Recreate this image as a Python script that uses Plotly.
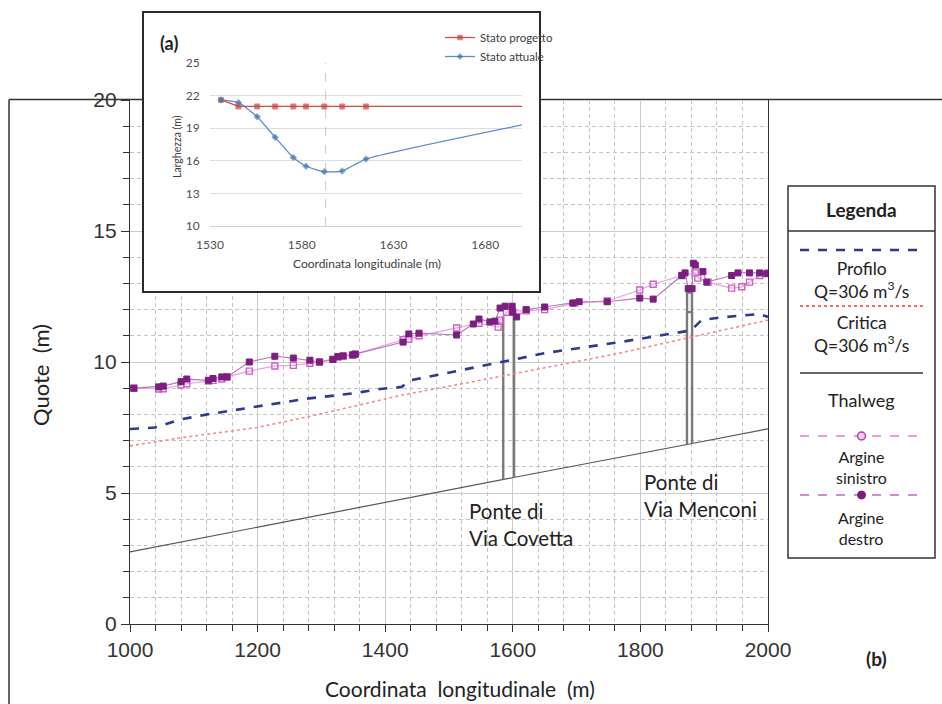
import numpy as np
import plotly.graph_objects as go

W, H = 942, 704
def fx(p):
    return p / W
def fy(p):
    return 1 - p / H

# ---------------- main chart data (b) ----------------
thalweg_x = [1000, 1423, 1603, 1877, 2000]
thalweg_y = [2.75, 4.76, 5.60, 6.87, 7.45]

profilo_x = [1000, 1039, 1078, 1121, 1199, 1277, 1349, 1392, 1426, 1439, 1497, 1585,
             1653, 1768, 1873, 1881, 1896, 1925, 1987, 2000]
profilo_y = [7.44, 7.50, 7.80, 8.00, 8.30, 8.60, 8.80, 8.97, 9.05, 9.30, 9.58, 10.00,
             10.35, 10.76, 11.18, 11.25, 11.60, 11.70, 11.83, 11.72]

critica_x = [1000, 1078, 1199, 1277, 1349, 1423, 1585, 1768, 1880, 2000]
critica_y = [6.80, 7.10, 7.50, 7.90, 8.30, 8.72, 9.47, 10.34, 10.95, 11.60]

destro_x = [1006, 1045, 1052, 1080, 1089, 1123, 1130, 1144, 1152, 1187, 1227, 1256, 1282,
            1297, 1318, 1326, 1334, 1349, 1353, 1428, 1437, 1453, 1512, 1538, 1547, 1564,
            1572, 1580, 1588, 1599, 1600, 1606, 1621, 1650, 1694, 1704, 1748, 1799, 1820,
            1865, 1870, 1875, 1881, 1883, 1886, 1898, 1904, 1943, 1953, 1971, 1987, 1998]
destro_y = [9.00, 9.05, 9.08, 9.25, 9.35, 9.30, 9.37, 9.43, 9.43, 10.00, 10.22, 10.15, 10.07,
            10.00, 10.10, 10.20, 10.23, 10.27, 10.30, 10.76, 11.07, 11.10, 11.03, 11.45, 11.64, 11.53,
            11.56, 12.06, 12.13, 12.13, 11.90, 11.72, 12.00, 12.10, 12.25, 12.30, 12.30, 12.44, 12.40,
            13.30, 13.40, 12.80, 12.80, 13.77, 13.70, 13.45, 13.05, 13.30, 13.40, 13.40, 13.40, 13.37]

sinistro_x = [1006, 1045, 1052, 1080, 1089, 1123, 1130, 1144, 1152, 1187, 1227, 1256, 1282,
              1297, 1318, 1326, 1334, 1349, 1353, 1428, 1437, 1453, 1512, 1547, 1577, 1580,
              1590, 1599, 1621, 1650, 1697, 1748, 1799, 1820, 1865, 1886, 1890, 1906, 1943,
              1959, 1971, 1987, 2000]
sinistro_y = [9.00, 8.97, 8.98, 9.12, 9.17, 9.27, 9.30, 9.35, 9.43, 9.65, 9.85, 9.87, 9.95,
              10.00, 10.10, 10.20, 10.23, 10.27, 10.30, 10.85, 10.87, 11.00, 11.30, 11.48, 11.33, 11.60,
              11.90, 11.95, 11.95, 12.00, 12.25, 12.33, 12.75, 12.97, 13.30, 13.40, 13.20, 13.05, 12.82,
              12.87, 13.05, 13.30, 13.40]

bridge_labels = ["Ponte di<br>Via Covetta", "Ponte di<br>Via Menconi"]
bridge_left = [1585, 1873]
bridge_right = [1602, 1881]
bridge_top = [11.75, 11.90]
deck_top = [None, 12.65]

# ---------------- inset data (a) ----------------
inset_x = [1536, 1545.5, 1555.7, 1565.5, 1575.4, 1582.3, 1592.3, 1602, 1615, 1700]
progetto_y = [21.6, 21.0, 21.0, 21.0, 21.0, 21.0, 21.0, 21.0, 21.0, 21.0]
attuale_y = [21.6, 21.35, 20.06, 18.16, 16.3, 15.5, 15.0, 15.06, 16.16, 19.3]
inset_bridge_x = 1593

# ---------------- styles ----------------
TXT = "Lato"
NUM = "Liberation Sans"
DARK = "#333333"
C_PROF = "#2e3a8c"
C_CRIT = "#f28c8c"
C_THAL = "#555555"
C_SIN_L = "#eaa0e2"
C_SIN_M = "#d45ec4"
C_DES_L = "#b77ab8"
C_DES_M = "#7a1f80"
C_BRIDGE = "#7a7a7a"

fig = go.Figure()

# main traces
fig.add_trace(go.Scatter(x=thalweg_x, y=thalweg_y, mode="lines",
                         line=dict(color=C_THAL, width=1.2), showlegend=False, hoverinfo="skip"))

thal_l = np.interp(bridge_left, thalweg_x, thalweg_y)
thal_r = np.interp(bridge_right, thalweg_x, thalweg_y)
for i in range(len(bridge_left)):
    xs = [bridge_left[i], bridge_left[i], None, bridge_right[i], bridge_right[i]]
    ys = [thal_l[i], bridge_top[i], None, thal_r[i], bridge_top[i]]
    fig.add_trace(go.Scatter(x=xs, y=ys, mode="lines", line=dict(color=C_BRIDGE, width=2.4),
                             showlegend=False, hoverinfo="skip"))
    if deck_top[i] is not None:
        fig.add_trace(go.Scatter(
            x=[bridge_left[i], bridge_right[i], bridge_right[i], bridge_left[i], bridge_left[i]],
            y=[bridge_top[i], bridge_top[i], deck_top[i], deck_top[i], bridge_top[i]],
            mode="lines", fill="toself", fillcolor="#e8e8e8",
            line=dict(color=C_BRIDGE, width=2.2), showlegend=False, hoverinfo="skip"))

fig.add_trace(go.Scatter(x=critica_x, y=critica_y, mode="lines",
                         line=dict(color=C_CRIT, width=1.6, dash="dot"), showlegend=False, hoverinfo="skip"))
fig.add_trace(go.Scatter(x=profilo_x, y=profilo_y, mode="lines",
                         line=dict(color=C_PROF, width=2.6, dash="dash"), showlegend=False, hoverinfo="skip"))
fig.add_trace(go.Scatter(x=sinistro_x, y=sinistro_y, mode="lines+markers",
                         line=dict(color=C_SIN_L, width=1.2),
                         marker=dict(symbol="square-open", size=6, color=C_SIN_M, line=dict(width=1.4, color=C_SIN_M)),
                         showlegend=False, hoverinfo="skip"))
fig.add_trace(go.Scatter(x=destro_x, y=destro_y, mode="lines+markers",
                         line=dict(color=C_DES_L, width=1.2),
                         marker=dict(symbol="square", size=6, color=C_DES_M, line=dict(width=1, color=C_DES_M)),
                         showlegend=False, hoverinfo="skip"))

# white panel subplot behind the inset (covers main grid)
fig.add_trace(go.Scatter(x=[None], y=[None], xaxis="x2", yaxis="y2", showlegend=False, hoverinfo="skip"))

# inset traces
fig.add_trace(go.Scatter(x=[inset_bridge_x, inset_bridge_x], y=[10, 25], xaxis="x3", yaxis="y3",
                         mode="lines", line=dict(color="#c8c8c8", width=1, dash="dash"),
                         showlegend=False, hoverinfo="skip"))
msize = [5] * (len(inset_x) - 1) + [0]
fig.add_trace(go.Scatter(x=inset_x, y=progetto_y, xaxis="x3", yaxis="y3", mode="lines+markers",
                         name="Stato progetto", line=dict(color="#d24a4a", width=1.3),
                         marker=dict(symbol="square", size=msize, color="#c83c3c"), hoverinfo="skip"))
fig.add_trace(go.Scatter(x=inset_x, y=attuale_y, xaxis="x3", yaxis="y3", mode="lines+markers",
                         name="Stato attuale", line=dict(color="#5b8cc8", width=1.3, shape="spline", smoothing=0.5),
                         marker=dict(symbol="diamond", size=msize, color="#3f6fae"), hoverinfo="skip"))

# ---------------- layout ----------------
shapes = []
shapes.append(dict(type="line", xref="paper", yref="paper", x0=fx(9), x1=fx(942), y0=fy(99.5), y1=fy(99.5),
                   line=dict(color=DARK, width=1.5), layer="below"))
shapes.append(dict(type="line", xref="paper", yref="paper", x0=fx(9), x1=fx(9), y0=fy(99.5), y1=0,
                   line=dict(color=DARK, width=1.5), layer="below"))
shapes.append(dict(type="rect", xref="paper", yref="paper", x0=fx(143), x1=fx(540), y0=fy(292), y1=fy(12),
                   line=dict(color="#2a2a2a", width=2), fillcolor="rgba(0,0,0,0)", layer="above"))
shapes.append(dict(type="rect", xref="paper", yref="paper", x0=fx(788), x1=fx(935), y0=fy(558), y1=fy(186),
                   line=dict(color=DARK, width=1.5), fillcolor="white", layer="above"))
shapes.append(dict(type="line", xref="paper", yref="paper", x0=fx(788), x1=fx(935), y0=fy(231), y1=fy(231),
                   line=dict(color=DARK, width=1.5), layer="above"))
leg_lines = [
    (250, C_PROF, 2.5, "dash"),
    (306, "#ee6b6b", 2.0, "dot"),
    (373, "#333333", 1.6, "solid"),
    (436, "#e27ad6", 1.4, "dash"),
    (495, "#c866c6", 1.4, "dash"),
]
for yy, col, wd, ds in leg_lines:
    shapes.append(dict(type="line", xref="paper", yref="paper", x0=fx(800), x1=fx(923), y0=fy(yy), y1=fy(yy),
                       line=dict(color=col, width=wd, dash=ds), layer="above"))
shapes.append(dict(type="circle", xref="paper", yref="paper", x0=fx(857.5), x1=fx(865.5), y0=fy(440), y1=fy(432),
                   line=dict(color="#a5489f", width=1.5), fillcolor="#f3c7ee", layer="above"))
shapes.append(dict(type="circle", xref="paper", yref="paper", x0=fx(857.5), x1=fx(865.5), y0=fy(499), y1=fy(491),
                   line=dict(color=C_DES_M, width=1), fillcolor=C_DES_M, layer="above"))

annotations = []
def ann(text, x, y, size, bold=False, color="#222222", xanchor="center", family=TXT, angle=0, align="center"):
    annotations.append(dict(text=("<b>%s</b>" % text) if bold else text, x=fx(x), y=fy(y), xref="paper",
                            yref="paper", showarrow=False, xanchor=xanchor, yanchor="middle", align=align,
                            textangle=angle, font=dict(family=family, size=size, color=color)))

ann("Legenda", 861, 209, 19, bold=True)
ann("Profilo<br>Q=306 m<sup>3</sup>/s", 861, 280, 17.5)
ann("Critica<br>Q=306 m<sup>3</sup>/s", 861, 334, 17.5)
ann("Thalweg", 861, 400, 18)
ann("Argine<br>sinistro", 861, 467, 16)
ann("Argine<br>destro", 861, 528, 16)

ann("(b)", 876, 658, 19, bold=True)
ann("(a)", 169, 43, 18, bold=True)
ann("Coordinata  longitudinale  (m)", 460, 688, 21, color="#222222")
ann("Quote  (m)", 40, 375, 22, color="#222222", angle=-90)
ann("Larghezza (m)", 177, 147, 10.5, color="#404040", angle=-90)
ann("Coordinata longitudinale (m)", 367, 263, 12, color="#404040")

label_x_px = [467, 642]
label_y_px = [524, 495]
for i, lab in enumerate(bridge_labels):
    ann(lab, label_x_px[i], label_y_px[i], 20.5, color="#222222", xanchor="left", align="left")

fig.update_layout(
    width=W, height=H,
    margin=dict(l=0, r=0, t=0, b=0, pad=0, autoexpand=False),
    paper_bgcolor="white", plot_bgcolor="white",
    showlegend=True,
    legend=dict(x=fx(440), y=fy(23), xanchor="left", yanchor="top",
                font=dict(family=TXT, size=11.5, color="#404040"),
                bgcolor="rgba(0,0,0,0)", itemwidth=30, tracegroupgap=0, traceorder="normal"),
    shapes=shapes, annotations=annotations,
    xaxis=dict(domain=[fx(130), fx(768)], range=[1000, 2000], tick0=1000, dtick=200, automargin=False,
               showline=True, linecolor=DARK, linewidth=1.3, mirror=True,
               ticks="outside", ticklen=7, tickcolor=DARK, tickwidth=1,
               showgrid=True, gridcolor="#cccccc", gridwidth=1, zeroline=False,
               tickfont=dict(family=NUM, size=21, color="#333333"),
               minor=dict(dtick=40, tick0=1000, showgrid=True, gridcolor="#c4c4c4", griddash="4px,3px",
                          ticks="outside", ticklen=6, tickcolor=DARK)),
    yaxis=dict(domain=[fy(624), fy(100)], range=[0, 20], tick0=0, dtick=5, automargin=False,
               showline=True, linecolor=DARK, linewidth=1.3, mirror=True,
               ticks="outside", ticklen=8, tickcolor=DARK, tickwidth=1,
               showgrid=True, gridcolor="#cccccc", gridwidth=1, zeroline=False,
               tickfont=dict(family=NUM, size=21, color="#333333"),
               minor=dict(dtick=1, tick0=0, showgrid=True, gridcolor="#c4c4c4", griddash="4px,3px",
                          ticks="outside", ticklen=6, tickcolor=DARK)),
    xaxis2=dict(domain=[fx(143), fx(540)], anchor="y2", range=[0, 1], showgrid=False, zeroline=False,
                showline=False, showticklabels=False, ticks="", automargin=False),
    yaxis2=dict(domain=[fy(292), fy(12)], anchor="x2", range=[0, 1], showgrid=False, zeroline=False,
                showline=False, showticklabels=False, ticks="", automargin=False),
    xaxis3=dict(domain=[fx(210), fx(522)], anchor="y3", range=[1530, 1700], tick0=1530, dtick=50,
                showgrid=False, zeroline=False, showline=True, linecolor="#d0d0d0", linewidth=1,
                ticks="outside", ticklen=8, tickcolor="rgba(0,0,0,0)", automargin=False,
                tickfont=dict(family=TXT, size=12, color="#505050")),
    yaxis3=dict(domain=[fy(226), fy(63)], anchor="x3", range=[10, 25], tick0=10, dtick=3,
                showgrid=True, gridcolor="#dedede", gridwidth=1, zeroline=False, showline=False,
                ticks="outside", ticklen=7, tickcolor="rgba(0,0,0,0)", automargin=False,
                tickfont=dict(family=TXT, size=12, color="#505050")),
)

fig.write_html("out.html")
